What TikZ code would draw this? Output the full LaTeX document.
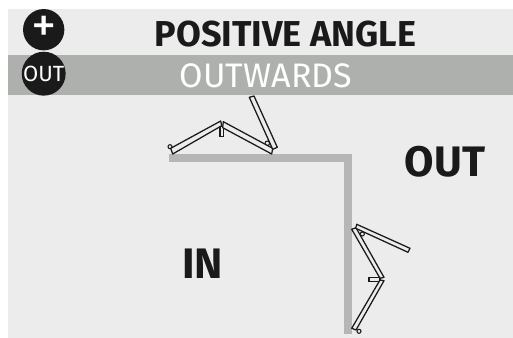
\documentclass[tikz,border=0pt]{standalone}
\usepackage{fontspec}
\setmainfont{Fira Sans}
\definecolor{bgc}{HTML}{ECECEC}
\definecolor{bandc}{HTML}{AEB0AE}
\definecolor{wallc}{HTML}{B5B6B5}
\definecolor{inkc}{HTML}{1A1A1A}
\tikzset{
  px/.style={x=0.75pt,y=-0.75pt},
  badge/.style={circle,fill=inkc,minimum size=31pt,inner sep=0pt,text=white},
  title/.style={font=\bfseries\fontsize{27}{27}\selectfont,text=inkc,inner sep=0pt},
  big/.style={font=\bfseries\fontsize{32}{32}\selectfont,text=inkc,inner sep=0pt},
  wall/.style={draw=wallc,line width=5.8pt},
  arm/.style={draw=inkc,line width=0.95pt,fill=bgc,line join=round},
  pin/.style={draw=inkc,line width=0.8pt,fill=bgc}
}
\begin{document}
\begin{tikzpicture}[px]
\useasboundingbox (0,0) rectangle (513,338);
\fill[white] (0,0) rectangle (513,338);
\fill[bgc] (8,9) rectangle (513,338);
\fill[bandc] (8,55) rectangle (513,95);
\node[title] (t1) at (285.5,34) {POSITIVE ANGLE};
\node[text=white,inner sep=0pt,font=\fontsize{25.5}{25.5}\selectfont] (t2) at (266,75.5) {OUTWARDS};
\node[badge] (b1) at (43.7,29.7) {};
\node[inner sep=0pt,text=white,font=\fontsize{38}{38}\selectfont] (p1) at (b1) {+};
\node[badge,font=\fontsize{16.5}{16.5}\selectfont] (b2) at (43.7,73.7) {OUT};
\node[big] (o) at (445,162) {OUT};
\node[big] (i) at (202.5,263.5) {IN};
\coordinate (w1) at (169,157.8);
\coordinate (w2) at (348,157.8);
\coordinate (w3) at (348,334);
\draw[wall] (w1) -- (w2) -- (w3);
% top linkage
\draw[pin] (170,146.7) circle (2);
\draw[pin] (267.3,143.3) circle (2.3);
\draw[pin] (220,126.7) rectangle (223.7,136.7);
\draw[arm] (170.7,148.3) -- (220.7,121) -- (221.7,125.7) -- (172.7,154) -- cycle;
\draw[arm] (223.3,121.7) -- (272.7,148.3) -- (271.7,154) -- (222.7,127.7) -- cycle;
\draw[arm] (249.3,97.3) -- (254,96) -- (277.3,147.3) -- (272.7,149.3) -- cycle;
% right linkage
\draw[pin] (359,331.3) circle (2);
\draw[pin] (362.3,234) circle (2);
\draw[pin] (369,277.3) rectangle (380,281.3);
\draw[arm] (351.7,328.3) -- (380,280) -- (384,280.7) -- (356,330) -- cycle;
\draw[arm] (351.7,229.3) -- (356,227.7) -- (384,277.3) -- (380,278.3) -- cycle;
\draw[arm] (356.7,224.3) -- (410,248.3) -- (408,252.3) -- (355.7,228.3) -- cycle;
\end{tikzpicture}
\end{document}
